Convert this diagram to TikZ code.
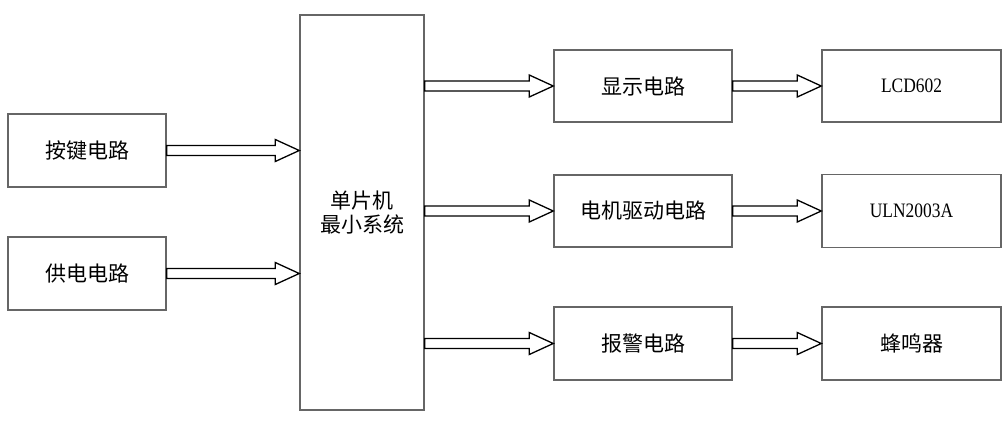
\documentclass[tikz,border=0pt]{standalone}
\usepackage{fontspec}
\setmainfont{Liberation Serif}
\newfontfamily\cjk{Noto Sans CJK SC}
\newfontfamily\narrowserif[FakeStretch=0.85]{Liberation Serif}
\usetikzlibrary{calc}
\definecolor{cgrey}{HTML}{666666}
\tikzset{
  every picture/.style={line width=1.2pt},
  box/.style={draw=cgrey, line width=1.5pt, align=center, inner sep=0pt, font=\cjk\fontsize{21}{24}\selectfont},
  latin/.style={font=\narrowserif\fontsize{20.5}{24}\selectfont},
  fatarrow/.style={draw=black, line width=1.3pt, fill=white, line join=miter},
}
% hollow block arrow from #1 to #2 (horizontal)
\newcommand\fatarrow[2]{%
  \draw[fatarrow] let \p1=(#1), \p2=(#2) in
    (\x1,\y1+5pt) -- (\x2-24pt,\y1+5pt) -- (\x2-24pt,\y1+11pt) -- (\x2,\y1)
    -- (\x2-24pt,\y1-11pt) -- (\x2-24pt,\y1-5pt) -- (\x1,\y1-5pt) -- cycle;}

\begin{document}
\begin{tikzpicture}[x=1pt, y=-1pt]
  \useasboundingbox (0,0) rectangle (1006,421);
  \node[box, minimum width=158pt, minimum height=73pt] (key) at (87,150.5) {按键电路};
  \node[box, minimum width=158pt, minimum height=73pt] (power) at (87,273.5) {供电电路};
  \node[box, minimum width=124pt, minimum height=395pt] (mcu) at (362,212.5) {单片机\\最小系统};
  \node[box, minimum width=178pt, minimum height=72pt] (disp) at (643,86) {显示电路};
  \node[box, minimum width=178pt, minimum height=72pt] (motor) at (643,211) {电机驱动电路};
  \node[box, minimum width=178pt, minimum height=73pt] (alarm) at (643,343.5) {报警电路};
  \node[box, latin, minimum width=179pt, minimum height=72pt] (lcd) at (911.5,86) {LCD602};
  \node[box, latin, minimum width=179pt, minimum height=73pt] (uln) at (911.5,211) {ULN2003A};
  \node[box, minimum width=179pt, minimum height=73pt] (buzz) at (911.5,343.5) {蜂鸣器};
  \fatarrow{key.east}{key.east -| mcu.west}
  \fatarrow{power.east}{power.east -| mcu.west}
  \fatarrow{mcu.east |- disp.west}{disp.west}
  \fatarrow{mcu.east |- motor.west}{motor.west}
  \fatarrow{mcu.east |- alarm.west}{alarm.west}
  \fatarrow{disp.east}{lcd.west}
  \fatarrow{motor.east}{uln.west}
  \fatarrow{alarm.east}{buzz.west}
\end{tikzpicture}
\end{document}
